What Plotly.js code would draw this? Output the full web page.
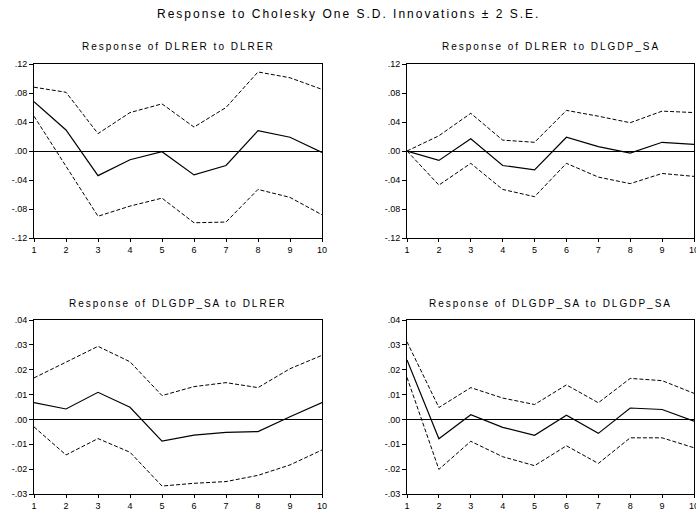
<!DOCTYPE html>
<html>
<head>
<meta charset="utf-8">
<script src="https://cdn.plot.ly/plotly-3.0.1.min.js"></script>
<style>
html,body{margin:0;padding:0;background:#fff;}
#chart{width:696px;height:512px;}
.annotation-text{letter-spacing:2px;}
</style>
</head>
<body>
<div id="chart"></div>
<script>
// Horizons
const periods = [1,2,3,4,5,6,7,8,9,10];

// Response of DLRER to DLRER
const rr_mid = [0.068, 0.029, -0.034, -0.012, -0.001, -0.033, -0.020, 0.028, 0.019, -0.002];
const rr_up  = [0.088, 0.081, 0.024, 0.053, 0.065, 0.033, 0.060, 0.109, 0.101, 0.085];
const rr_lo  = [0.048, -0.021, -0.090, -0.076, -0.065, -0.099, -0.098, -0.053, -0.064, -0.088];

// Response of DLRER to DLGDP_SA
const rg_mid = [0.000, -0.013, 0.017, -0.020, -0.026, 0.019, 0.006, -0.003, 0.012, 0.009];
const rg_up  = [0.000, 0.021, 0.052, 0.015, 0.012, 0.056, 0.048, 0.039, 0.055, 0.053];
const rg_lo  = [0.000, -0.047, -0.017, -0.053, -0.063, -0.017, -0.036, -0.045, -0.031, -0.035];

// Response of DLGDP_SA to DLRER
const gr_mid = [0.0068, 0.0042, 0.0109, 0.0049, -0.0087, -0.0063, -0.0052, -0.0049, 0.0011, 0.0068];
const gr_up  = [0.0167, 0.0230, 0.0294, 0.0232, 0.0096, 0.0132, 0.0148, 0.0128, 0.0204, 0.0258];
const gr_lo  = [-0.0030, -0.0143, -0.0077, -0.0132, -0.0268, -0.0257, -0.0250, -0.0225, -0.0183, -0.0123];

// Response of DLGDP_SA to DLGDP_SA
const gg_mid = [0.0239, -0.0078, 0.0019, -0.0032, -0.0064, 0.0017, -0.0056, 0.0046, 0.0040, -0.0007];
const gg_up  = [0.0312, 0.0048, 0.0128, 0.0086, 0.0060, 0.0139, 0.0067, 0.0165, 0.0156, 0.0105];
const gg_lo  = [0.0169, -0.0201, -0.0088, -0.0150, -0.0186, -0.0106, -0.0177, -0.0074, -0.0074, -0.0114];

// Tick labels
const yTopVals = [-0.12, -0.08, -0.04, 0, 0.04, 0.08, 0.12];
const yTopText = ['-.12', '-.08', '-.04', '.00', '.04', '.08', '.12'];
const yBotVals = [-0.03, -0.02, -0.01, 0, 0.01, 0.02, 0.03, 0.04];
const yBotText = ['-.03', '-.02', '-.01', '.00', '.01', '.02', '.03', '.04'];

const mainTitle = 'Response to Cholesky One S.D. Innovations \u00b1 2 S.E.';
const panelTitles = [
  'Response of DLRER to DLRER',
  'Response of DLRER to DLGDP_SA',
  'Response of DLGDP_SA to DLRER',
  'Response of DLGDP_SA to DLGDP_SA'
];

const panels = [
  {mid: rr_mid, up: rr_up, lo: rr_lo},
  {mid: rg_mid, up: rg_up, lo: rg_lo},
  {mid: gr_mid, up: gr_up, lo: gr_lo},
  {mid: gg_mid, up: gg_up, lo: gg_lo}
];

const W = 696, H = 512;
const px = v => v / W;
const py = v => 1 - v / H;

const xDom = [[px(34), px(322)], [px(407), px(694)]];
const yDom = [[py(238), py(64)], [py(494), py(320)]];

const traces = [];
panels.forEach((p, i) => {
  const sfx = i === 0 ? '' : String(i + 1);
  const xa = 'x' + sfx, ya = 'y' + sfx;
  traces.push({x: periods, y: p.up, xaxis: xa, yaxis: ya, mode: 'lines',
    line: {color: '#000', width: 1, dash: '4px,2px'}, hoverinfo: 'skip'});
  traces.push({x: periods, y: p.lo, xaxis: xa, yaxis: ya, mode: 'lines',
    line: {color: '#000', width: 1, dash: '4px,2px'}, hoverinfo: 'skip'});
  traces.push({x: periods, y: p.mid, xaxis: xa, yaxis: ya, mode: 'lines',
    line: {color: '#000', width: 1.2}, hoverinfo: 'skip'});
});

const tickFont = {family: 'Liberation Sans, Arial, sans-serif', size: 9, color: '#000'};

const layout = {
  width: W, height: H,
  margin: {l: 0, r: 0, t: 0, b: 0},
  paper_bgcolor: '#fff', plot_bgcolor: '#fff',
  showlegend: false,
  annotations: [
    {text: mainTitle, xref: 'paper', yref: 'paper', x: 0.5, y: py(14),
     showarrow: false, xanchor: 'center', yanchor: 'middle',
     font: {family: 'Liberation Sans, Arial, sans-serif', size: 12, color: '#000'}}
  ]
};

for (let i = 0; i < 4; i++) {
  const col = i % 2, row = Math.floor(i / 2);
  const sfx = i === 0 ? '' : String(i + 1);
  const top = row === 0;
  layout['xaxis' + sfx] = {
    domain: xDom[col], anchor: 'y' + sfx, range: [1, 10],
    tickvals: periods, ticktext: periods.map(String),
    showgrid: false, zeroline: false, showline: true, mirror: true,
    linecolor: '#000', linewidth: 1, ticks: 'outside', ticklen: 3, tickcolor: '#000',
    tickfont: tickFont, ticklabeloverflow: 'allow', fixedrange: true
  };
  layout['yaxis' + sfx] = {
    domain: yDom[row], anchor: 'x' + sfx,
    range: top ? [-0.12, 0.12] : [-0.03, 0.04],
    tickvals: top ? yTopVals : yBotVals, ticktext: top ? yTopText : yBotText,
    showgrid: false, zeroline: true, zerolinecolor: '#000', zerolinewidth: 1,
    showline: true, mirror: true, linecolor: '#000', linewidth: 1,
    ticks: 'outside', ticklen: 4, tickcolor: '#000',
    tickfont: tickFont, fixedrange: true
  };
  const cx = (xDom[col][0] + xDom[col][1]) / 2;
  layout.annotations.push({
    text: panelTitles[i], xref: 'paper', yref: 'paper', x: cx,
    y: top ? py(46) : py(303), showarrow: false, xanchor: 'center', yanchor: 'middle',
    font: {family: 'Liberation Sans, Arial, sans-serif', size: 10, color: '#000'}
  });
}

Plotly.newPlot('chart', traces, layout, {displayModeBar: false, staticPlot: true});
</script>
</body>
</html>
